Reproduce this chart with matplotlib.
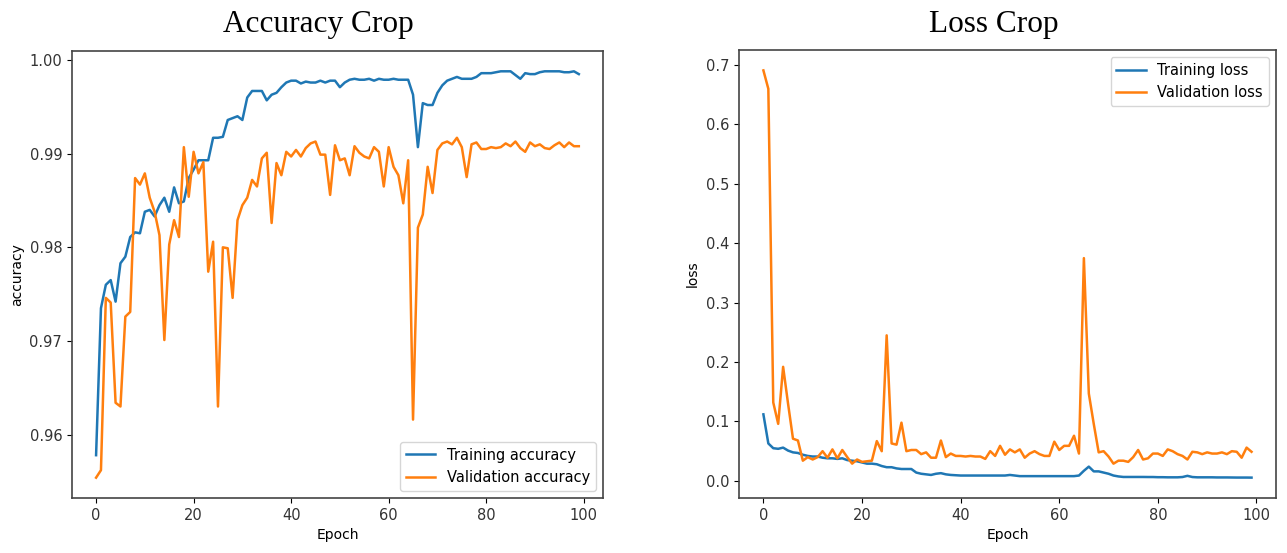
import matplotlib.pyplot as plt
import numpy as np

epochs = np.arange(100)

train_acc = [0.9578, 0.9735, 0.9760, 0.9765, 0.9742, 0.9783, 0.9790, 0.9811, 0.9816, 0.9815,
             0.9838, 0.9840, 0.9833, 0.9845, 0.9853, 0.9838, 0.9864, 0.9847, 0.9849, 0.9874,
             0.9883, 0.9893, 0.9893, 0.9893, 0.9917, 0.9917, 0.9918, 0.9936, 0.9938, 0.9940,
             0.9936, 0.9960, 0.9967, 0.9967, 0.9967, 0.9957, 0.9963, 0.9965, 0.9971, 0.9976,
             0.9978, 0.9978, 0.9975, 0.9977, 0.9976, 0.9976, 0.9978, 0.9976, 0.9978, 0.9978,
             0.9971, 0.9976, 0.9979, 0.9980, 0.9979, 0.9979, 0.9980, 0.9978, 0.9980, 0.9979,
             0.9979, 0.9980, 0.9979, 0.9979, 0.9979, 0.9963, 0.9907, 0.9954, 0.9952, 0.9952,
             0.9965, 0.9973, 0.9978, 0.9980, 0.9982, 0.9980, 0.9980, 0.9980, 0.9982, 0.9986,
             0.9986, 0.9986, 0.9987, 0.9988, 0.9988, 0.9988, 0.9984, 0.9980, 0.9986, 0.9985,
             0.9985, 0.9987, 0.9988, 0.9988, 0.9988, 0.9988, 0.9987, 0.9987, 0.9988, 0.9985]

val_acc = [0.9554, 0.9562, 0.9746, 0.9741, 0.9634, 0.9630, 0.9726, 0.9731, 0.9874, 0.9867,
           0.9879, 0.9853, 0.9838, 0.9813, 0.9701, 0.9803, 0.9829, 0.9811, 0.9907, 0.9854,
           0.9902, 0.9879, 0.9891, 0.9774, 0.9806, 0.9630, 0.9800, 0.9799, 0.9746, 0.9829,
           0.9845, 0.9853, 0.9872, 0.9865, 0.9895, 0.9901, 0.9826, 0.9890, 0.9877, 0.9902,
           0.9897, 0.9904, 0.9897, 0.9906, 0.9911, 0.9913, 0.9899, 0.9899, 0.9856, 0.9909,
           0.9893, 0.9895, 0.9877, 0.9908, 0.9901, 0.9897, 0.9895, 0.9907, 0.9902, 0.9865,
           0.9907, 0.9886, 0.9877, 0.9847, 0.9893, 0.9616, 0.9821, 0.9835, 0.9886, 0.9858,
           0.9904, 0.9911, 0.9913, 0.9910, 0.9917, 0.9907, 0.9875, 0.9910, 0.9912, 0.9905,
           0.9905, 0.9907, 0.9906, 0.9907, 0.9911, 0.9908, 0.9913, 0.9906, 0.9902, 0.9912,
           0.9908, 0.9910, 0.9906, 0.9905, 0.9909, 0.9912, 0.9907, 0.9912, 0.9908, 0.9908]

train_loss = [0.112, 0.063, 0.055, 0.054, 0.056, 0.051, 0.048, 0.047, 0.044, 0.042,
              0.041, 0.041, 0.039, 0.038, 0.038, 0.037, 0.038, 0.035, 0.034, 0.033,
              0.031, 0.029, 0.029, 0.028, 0.025, 0.023, 0.023, 0.021, 0.020, 0.020,
              0.020, 0.014, 0.012, 0.011, 0.010, 0.012, 0.013, 0.011, 0.010, 0.0095,
              0.009, 0.009, 0.009, 0.009, 0.009, 0.009, 0.009, 0.009, 0.009, 0.009,
              0.010, 0.009, 0.008, 0.008, 0.008, 0.008, 0.008, 0.008, 0.008, 0.008,
              0.008, 0.008, 0.008, 0.008, 0.009, 0.017, 0.024, 0.016, 0.016, 0.014,
              0.012, 0.009, 0.0075, 0.0066, 0.0066, 0.0066, 0.0066, 0.0066, 0.0065, 0.0065,
              0.0062, 0.0062, 0.006, 0.006, 0.006, 0.0065, 0.0085, 0.0065, 0.006, 0.006,
              0.006, 0.006, 0.0058, 0.0058, 0.0058, 0.0057, 0.0056, 0.0056, 0.0056, 0.0055]

val_loss = [0.691, 0.660, 0.132, 0.096, 0.192, 0.130, 0.071, 0.068, 0.034, 0.040,
            0.036, 0.040, 0.050, 0.039, 0.053, 0.038, 0.052, 0.040, 0.029, 0.036,
            0.032, 0.033, 0.034, 0.067, 0.050, 0.245, 0.063, 0.061, 0.098, 0.050,
            0.052, 0.052, 0.045, 0.048, 0.039, 0.039, 0.068, 0.040, 0.046, 0.042,
            0.042, 0.041, 0.042, 0.041, 0.041, 0.037, 0.050, 0.042, 0.059, 0.044,
            0.053, 0.048, 0.053, 0.039, 0.046, 0.050, 0.045, 0.042, 0.042, 0.066,
            0.052, 0.059, 0.059, 0.076, 0.046, 0.375, 0.147, 0.096, 0.048, 0.050,
            0.041, 0.029, 0.034, 0.034, 0.032, 0.040, 0.052, 0.036, 0.038, 0.046,
            0.046, 0.042, 0.053, 0.050, 0.045, 0.042, 0.036, 0.049, 0.048, 0.045,
            0.048, 0.046, 0.046, 0.048, 0.045, 0.050, 0.049, 0.039, 0.056, 0.049]

plt.rcParams['font.size'] = 10.5
plt.rcParams['lines.linewidth'] = 1.8

fig = plt.figure(figsize=(12.87, 5.53), dpi=100)

ax1 = fig.add_axes([0.0559, 0.0995, 0.4126, 0.8083])
ax1.plot(epochs, train_acc, label="Training accuracy")
ax1.plot(epochs, val_acc, label="Validation accuracy")
ax1.set_xlabel("Epoch", fontsize=10)
ax1.set_ylabel("accuracy", fontsize=10)
ax1.set_yticks([0.96, 0.97, 0.98, 0.99, 1.00])
ax1.legend(loc="lower right", fontsize=10.5)

ax2 = fig.add_axes([0.5742, 0.0995, 0.4172, 0.810])
ax2.plot(epochs, train_loss, label="Training loss")
ax2.plot(epochs, val_loss, label="Validation loss")
ax2.set_xlabel("Epoch", fontsize=10)
ax2.set_ylabel("loss", fontsize=10)
ax2.legend(loc="upper right", fontsize=10.5)

for ax in (ax1, ax2):
    ax.tick_params(labelcolor="#333333")
    for s in ax.spines.values():
        s.set_color("#444444")
        s.set_linewidth(1.2)

fig.text(318 / 1287, 0.955, "Accuracy Crop", family="Liberation Serif",
         fontsize=22.5, ha="center", va="center")
fig.text(994 / 1287, 0.955, "Loss Crop", family="Liberation Serif",
         fontsize=22.5, ha="center", va="center")

fig.savefig("out.png", dpi=100)
